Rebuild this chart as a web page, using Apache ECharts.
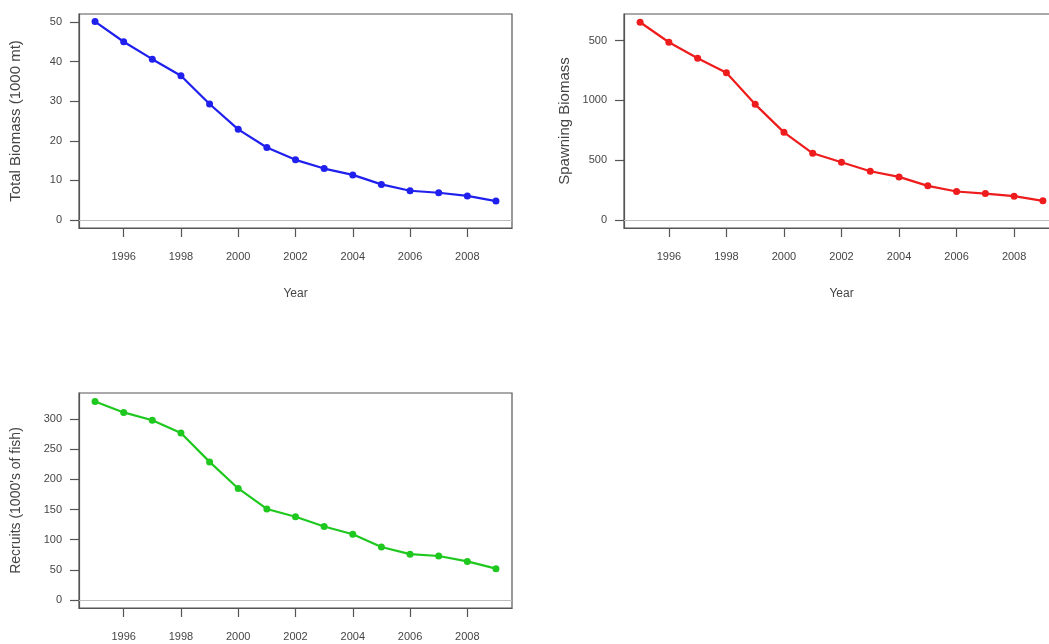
<!DOCTYPE html>
<html>
<head>
<meta charset="utf-8">
<script src="https://cdn.jsdelivr.net/npm/echarts@6/dist/echarts.min.js"></script>
<style>html,body{margin:0;padding:0;background:#fff;overflow:hidden;width:1049px;height:644px;}#c{width:1070px;height:644px;}</style>
</head>
<body>
<div id="c"></div>
<script>
const years = [1995,1996,1997,1998,1999,2000,2001,2002,2003,2004,2005,2006,2007,2008,2009];
const totalBiomass = [50.1,45.0,40.6,36.4,29.3,22.9,18.3,15.2,13.0,11.4,9.0,7.4,6.9,6.1,4.8];
const spawningBiomass = [1653,1486,1353,1231,967,733,558,483,408,361,286,239,222,200,161];
const recruits = [329,311,298,277,229,185,151,138,122,109,88,76,73,64,52];
const yearTicks = [1996,1998,2000,2002,2004,2006,2008];
const totalTicks = [0,10,20,30,40,50];
const spawnTicks = [0,500,1000,1500];
const spawnTickLabels = ['0','500','1000','500'];
const recruitTicks = [0,50,100,150,200,250,300];

const FONT = 'Liberation Sans';
const TXT = '#454545';
const AX = '#555';

function xAx(gi, showName) {
  return {
    type: 'value', gridIndex: gi, min: 1994.44, max: 2009.56,
    name: showName ? 'Year' : '', nameLocation: 'middle', nameGap: 60,
    nameTextStyle: {fontFamily: FONT, fontSize: 12, color: TXT},
    axisLine: {show: true, onZero: false, lineStyle: {color: AX, width: 1.2}},
    axisTick: {show: true, length: 9, customValues: yearTicks, lineStyle: {color: AX, width: 1.2}},
    axisLabel: {customValues: yearTicks, margin: 23, fontFamily: FONT, fontSize: 11, color: TXT, formatter: v => String(v)},
    splitLine: {show: false}
  };
}
function yAx(gi, name, min, max, ticks, fmt, gap, nameSize) {
  return {
    type: 'value', gridIndex: gi, min: min, max: max,
    name: name, nameLocation: 'middle', nameGap: gap, nameRotate: 90,
    nameTextStyle: {fontFamily: FONT, fontSize: nameSize, color: TXT},
    axisLine: {show: true, onZero: false, lineStyle: {color: AX, width: 1.2}},
    axisTick: {show: true, length: 9, customValues: ticks, lineStyle: {color: AX, width: 1.2}},
    axisLabel: {customValues: ticks, margin: 17, fontFamily: FONT, fontSize: 11, color: TXT, formatter: fmt},
    splitLine: {show: false}
  };
}
function ser(gi, vals, color) {
  return {
    type: 'line', xAxisIndex: gi, yAxisIndex: gi,
    data: years.map((y, i) => [y, vals[i]]),
    symbol: 'circle', symbolSize: 7, showSymbol: true,
    lineStyle: {color: color, width: 2.2}, itemStyle: {color: color},
    z: 3, animation: false,
    markLine: {silent: true, symbol: 'none', label: {show: false},
      lineStyle: {color: '#bdbdbd', width: 1.2, type: 'solid'}, data: [{yAxis: 0}], animation: false}
  };
}
const chart = echarts.init(document.getElementById('c'), null, {renderer: 'canvas'});
chart.setOption({
  backgroundColor: '#fff',
  animation: false,
  grid: [
    {left: 79, top: 14, width: 433, height: 214, show: true, borderColor: AX, borderWidth: 1.2, backgroundColor: 'transparent'},
    {left: 624, top: 14, width: 435, height: 214, show: true, borderColor: AX, borderWidth: 1.2, backgroundColor: 'transparent'},
    {left: 79, top: 393, width: 433, height: 215, show: true, borderColor: AX, borderWidth: 1.2, backgroundColor: 'transparent'}
  ],
  xAxis: [xAx(0, true), xAx(1, true), xAx(2, false)],
  yAxis: [
    yAx(0, 'Total Biomass (1000 mt)', -2, 52, totalTicks, v => String(v), 56, 15),
    yAx(1, 'Spawning Biomass', -66, 1722, spawnTicks, v => spawnTickLabels[spawnTicks.indexOf(v)] ?? String(v), 52, 15),
    yAx(2, "Recruits (1000's of fish)", -13.2, 343.2, recruitTicks, v => String(v), 56, 14)
  ],
  series: [
    ser(0, totalBiomass, '#1f1fee'),
    ser(1, spawningBiomass, '#ee1c1c'),
    ser(2, recruits, '#1fc81f')
  ]
});
</script>
</body>
</html>
